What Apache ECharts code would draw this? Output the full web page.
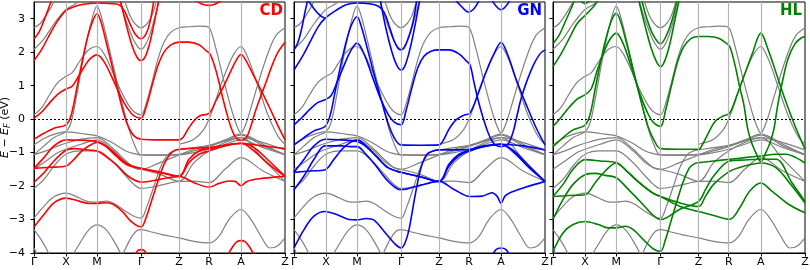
<!DOCTYPE html>
<html><head><meta charset="utf-8">
<script src="https://cdn.jsdelivr.net/npm/echarts@6/dist/echarts.min.js"></script>
<style>html,body{margin:0;padding:0;background:#fff}#c{width:810px;height:270px}</style>
</head><body><div id="c"></div>
<script>
// k-path positions of the high-symmetry points and their labels
const kTicks = [0, 32, 63, 107, 145, 175, 207, 251];
const kLabels = ['Γ', 'X', 'M', 'Γ', 'Z', 'R', 'A', 'Z'];
const yTicks = [-4, -3, -2, -1, 0, 1, 2, 3];

// Reference (grey) bands, shared by all panels: each band = [k, E] points
const grayBands = [
  [[0,0.13],[8,0.35],[16,0.75],[24,1.1],[32,1.28],[38,1.38],[44,1.65],[50,1.92],[56,2.1],[63,2.17],[70,1.95],[78,1.45],[86,0.9],[94,0.45],[100,0.22],[107,0.13],[112,0.45],[118,1.1],[124,1.8],[130,2.3],[137,2.6],[145,2.73],[155,2.76],[165,2.78],[172,2.77],[176,2.7],[182,2.1],[189,1.25],[196,0.45],[201,-0.05],[205,-0.35],[207,-0.42],[209,-0.35],[213,-0.05],[219,0.55],[227,1.35],[235,2.05],[242,2.5],[251,2.73]],
  [[0,-1.07],[10,-0.8],[20,-0.55],[32,-0.37],[37,-0.1],[42,0.6],[48,1.6],[54,2.5],[59,3.1],[63,3.38],[67,3.1],[73,2.4],[80,1.5],[88,0.5],[95,-0.3],[101,-0.8],[107,-1.07],[126,-1.08],[145,-1.07],[160,-1.0],[175,-0.9],[191,-0.75],[207,-0.62],[229,-0.85],[251,-1.07]],
  [[145,-0.75],[160,-0.6],[170,-0.3],[175,0.0],[180,0.4],[186,0.95],[193,1.5],[200,1.95],[207,2.17],[211,2.02],[217,1.6],[225,0.9],[233,0.2],[241,-0.35],[246,-0.6],[251,-0.75]],
  [[0,2.73],[6,2.85],[12,3.1],[18,3.4],[21,3.6]],
  [[0,2.09],[10,2.4],[20,2.85],[28,3.15],[32,3.28],[40,3.42],[50,3.6]],
  [[90,3.6],[96,3.1],[101,2.85],[107,2.73],[113,2.85],[118,3.1],[123,3.6]],
  [[85,3.6],[92,2.95],[99,2.4],[104,2.15],[107,2.09],[110,2.15],[115,2.45],[120,2.95],[126,3.6]],
  [[0,-0.77],[12,-0.55],[24,-0.42],[32,-0.38],[47,-0.43],[63,-0.5],[78,-0.7],[92,-0.95],[100,-1.03],[107,-1.07],[126,-1.07],[145,-1.05],[160,-0.95],[175,-0.82],[191,-0.65],[207,-0.48],[229,-0.8],[251,-1.05]],
  [[0,-1.07],[12,-0.95],[24,-0.8],[32,-0.72],[47,-0.6],[63,-0.55],[78,-0.85],[92,-1.25],[100,-1.45],[107,-1.5],[126,-1.3],[145,-1.07],[160,-0.9],[175,-0.8],[191,-0.62],[207,-0.45],[229,-0.75],[251,-1.07]],
  [[0,-1.5],[12,-1.25],[24,-1.0],[32,-0.9],[47,-0.75],[63,-0.62],[78,-0.9],[92,-1.3],[100,-1.45],[107,-1.5],[126,-1.65],[145,-1.86],[160,-1.3],[175,-0.95],[191,-0.7],[207,-0.55],[229,-1.2],[251,-1.86]],
  [[0,-2.07],[10,-1.8],[20,-1.4],[32,-1.05],[47,-0.95],[63,-0.95],[78,-1.25],[92,-1.7],[100,-1.95],[107,-2.07],[126,-1.98],[145,-1.86],[160,-1.85],[175,-1.9],[191,-1.5],[207,-1.15],[229,-1.55],[251,-1.86]],
  [[0,-2.96],[10,-2.6],[20,-2.32],[32,-2.21],[45,-2.35],[55,-2.47],[63,-2.48],[72,-2.45],[80,-2.52],[90,-2.72],[100,-2.9],[107,-2.96],[113,-2.6],[120,-2.0],[127,-1.4],[134,-1.05],[140,-0.95],[145,-0.92],[160,-0.85],[175,-0.78],[191,-0.65],[207,-0.55],[229,-0.7],[251,-0.92]],
  [[38,-4.1],[46,-3.7],[55,-3.3],[63,-3.16],[72,-3.3],[82,-3.75],[88,-4.1]],
  [[88,-4.1],[96,-3.6],[102,-3.35],[107,-3.3],[115,-3.35],[128,-3.45],[145,-3.55],[160,-3.65],[175,-3.7],[185,-3.5],[195,-3.0],[207,-2.7],[217,-3.0],[227,-3.5],[236,-3.85],[243,-3.8],[251,-3.55]],
  [[0,-3.3],[6,-3.55],[12,-3.85],[16,-4.1]],
  [[0,-3.85],[4,-4.1]]
];

// CD (red) bands
const cdBands = [
  [[0,0.03],[8,0.22],[16,0.5],[24,0.75],[32,0.9],[38,0.98],[44,1.25],[50,1.55],[56,1.8],[63,1.92],[70,1.72],[78,1.25],[86,0.72],[94,0.3],[100,0.1],[107,0.03],[112,0.35],[118,1.0],[124,1.6],[130,2.0],[137,2.22],[145,2.3],[155,2.3],[165,2.22],[172,2.05],[176,1.95],[181,1.55],[185,1.1],[189,0.6],[193,0.15],[197,-0.25],[201,-0.52],[204,-0.61],[207,-0.63],[210,-0.61],[213,-0.52],[217,-0.2],[221,0.2],[226,0.62],[232,1.1],[238,1.6],[244,2.0],[251,2.3]],
  [[0,-0.6],[10,-0.42],[20,-0.27],[32,-0.17],[37,0.1],[42,0.8],[48,1.7],[54,2.5],[59,2.95],[63,3.15],[67,2.9],[73,2.2],[80,1.35],[88,0.35],[94,-0.2],[100,-0.5],[107,-0.6],[126,-0.62],[145,-0.62],[149,-0.55],[154,-0.3],[160,-0.05],[166,0.1],[175,0.17],[182,0.55],[190,1.0],[197,1.45],[203,1.8],[207,1.93],[211,1.8],[218,1.4],[229,0.75],[237,0.25],[244,-0.2],[251,-0.62]],
  [[0,1.75],[8,2.1],[16,2.55],[24,2.95],[32,3.24],[40,3.36],[47,3.42],[63,3.47],[78,3.45],[86,3.4],[91,3.2],[96,2.85],[101,2.55],[107,2.4],[112,2.55],[116,2.9],[120,3.6]],
  [[0,2.4],[5,2.6],[10,2.95],[15,3.35],[18,3.6]],
  [[86,3.6],[92,2.85],[98,2.2],[103,1.85],[107,1.75],[111,1.85],[116,2.3],[121,3.0],[125,3.6]],
  [[160,3.6],[167,3.45],[175,3.4],[182,3.45],[190,3.6]],
  [[0,-1.47],[16,-1.44],[32,-1.4],[40,-1.2],[48,-0.95],[56,-0.78],[63,-0.7],[72,-0.82],[82,-1.1],[94,-1.38],[107,-1.47],[126,-1.6],[145,-1.71],[155,-1.3],[165,-1.05],[175,-0.95],[191,-0.8],[207,-0.72],[218,-0.9],[235,-1.35],[251,-1.71]],
  [[0,-1.88],[10,-1.6],[20,-1.25],[32,-0.93],[40,-0.88],[48,-0.9],[56,-0.93],[63,-0.95],[72,-1.12],[82,-1.35],[94,-1.7],[107,-1.88],[126,-1.8],[145,-1.71],[160,-1.9],[175,-2.03],[185,-1.92],[195,-1.85],[201,-1.86],[207,-1.99],[213,-1.86],[225,-1.78],[251,-1.71]],
  [[0,-1.47],[10,-1.15],[20,-0.8],[32,-0.62],[47,-0.63],[63,-0.67],[72,-0.8],[82,-1.05],[94,-1.35],[107,-1.47],[126,-1.58],[145,-1.7],[155,-1.2],[165,-0.95],[175,-0.88],[191,-0.78],[207,-0.72],[220,-0.85],[235,-1.25],[251,-1.7]],
  [[0,-3.22],[10,-2.85],[20,-2.5],[32,-2.36],[45,-2.45],[55,-2.52],[63,-2.52],[70,-2.5],[78,-2.53],[88,-2.75],[98,-3.08],[107,-3.22],[112,-2.95],[118,-2.4],[124,-1.85],[130,-1.35],[136,-1.05],[141,-0.93],[145,-0.9],[160,-0.87],[175,-0.85],[191,-0.78],[207,-0.73],[229,-0.8],[251,-0.88]],
  [[193,-4.1],[199,-3.8],[203,-3.66],[207,-3.63],[211,-3.66],[215,-3.8],[221,-4.1]],
  [[100,-4.1],[104,-3.92],[107,-3.9],[110,-3.92],[114,-4.1]]
];

// GN (blue) bands
const gnBands = [
  [[0,-0.17],[8,0.05],[16,0.3],[24,0.5],[31,0.58],[37,0.7],[43,1.1],[50,1.6],[56,2.0],[63,2.27],[70,1.95],[78,1.3],[86,0.65],[94,0.15],[100,-0.08],[107,-0.17],[112,0.25],[118,0.95],[124,1.55],[130,1.88],[137,2.03],[145,2.07],[155,2.07],[165,1.95],[172,1.75],[176,1.62],[180,1.1],[184,0.58],[189,0.05],[194,-0.4],[199,-0.7],[203,-0.8],[207,-0.82],[211,-0.8],[215,-0.7],[219,-0.4],[223,0.1],[227,0.6],[233,1.15],[240,1.65],[246,1.95],[251,2.07]],
  [[0,-0.77],[10,-0.55],[20,-0.35],[31,-0.22],[36,0.1],[41,0.8],[47,1.65],[53,2.4],[58,2.85],[63,3.06],[67,2.8],[73,2.15],[80,1.35],[88,0.5],[95,-0.2],[101,-0.6],[107,-0.77],[126,-0.78],[145,-0.77],[149,-0.65],[155,-0.3],[162,-0.02],[170,0.12],[176,0.18],[184,0.75],[192,1.4],[200,1.95],[207,2.29],[214,1.9],[222,1.2],[232,0.45],[242,-0.25],[251,-0.77]],
  [[0,2.07],[4,2.3],[8,2.75],[11,3.2],[14,3.6]],
  [[13,3.6],[20,3.3],[26,3.1],[31,3.01]],
  [[0,1.47],[8,1.85],[16,2.3],[24,2.75],[31,3.01],[42,3.25],[52,3.42],[63,3.47],[75,3.45],[84,3.38],[90,3.2],[95,2.8],[100,2.35],[104,2.12],[107,2.07],[110,2.12],[114,2.4],[119,2.9],[123,3.6]],
  [[86,3.6],[92,2.7],[98,2.0],[103,1.6],[107,1.47],[111,1.6],[116,2.1],[121,2.8],[126,3.6]],
  [[160,3.6],[168,3.35],[174,3.2],[180,3.3],[186,3.6]],
  [[197,3.6],[202,3.38],[207,3.27],[212,3.38],[217,3.6]],
  [[0,-1.59],[16,-1.55],[31,-1.51],[40,-1.2],[48,-0.9],[56,-0.7],[63,-0.62],[72,-0.8],[82,-1.1],[94,-1.45],[107,-1.59],[126,-1.72],[145,-1.86],[155,-1.4],[165,-1.1],[176,-0.95],[191,-0.82],[207,-0.75],[220,-1.0],[235,-1.45],[251,-1.86]],
  [[0,-2.11],[10,-1.7],[20,-1.2],[31,-0.8],[40,-0.8],[48,-0.8],[56,-0.82],[63,-0.82],[72,-1.05],[82,-1.4],[94,-1.85],[107,-2.11],[126,-1.98],[145,-1.86],[160,-2.1],[176,-2.31],[188,-2.3],[198,-2.2],[203,-2.3],[207,-2.51],[211,-2.3],[216,-2.2],[230,-2.05],[251,-1.86]],
  [[0,-1.59],[10,-1.2],[20,-0.8],[31,-0.6],[47,-0.62],[63,-0.67],[72,-0.82],[82,-1.1],[94,-1.45],[107,-1.59],[126,-1.72],[145,-1.86],[155,-1.35],[165,-1.05],[176,-0.92],[191,-0.8],[207,-0.75],[220,-0.95],[235,-1.4],[251,-1.86]],
  [[0,-3.85],[10,-3.3],[20,-2.9],[31,-2.76],[45,-2.88],[55,-3.0],[63,-3.01],[72,-2.97],[80,-3.02],[90,-3.35],[100,-3.7],[107,-3.85],[111,-3.7],[115,-3.3],[121,-2.3],[127,-1.45],[133,-1.05],[139,-0.95],[145,-0.92],[160,-0.92],[176,-0.9],[191,-0.8],[207,-0.75],[229,-0.8],[251,-0.92]],
  [[198,-4.1],[202,-3.9],[207,-3.85],[212,-3.9],[216,-4.1]]
];

// HL (green) bands
const hlBands = [
  [[0,-0.22],[8,0.05],[16,0.35],[24,0.6],[32,0.73],[38,0.9],[44,1.45],[50,1.95],[56,2.35],[63,2.57],[70,2.25],[78,1.55],[86,0.8],[94,0.2],[100,-0.1],[107,-0.22],[112,0.25],[118,1.0],[124,1.7],[130,2.15],[137,2.4],[145,2.47],[155,2.47],[165,2.42],[172,2.28],[176,2.17],[181,1.65],[186,0.95],[190,0.45],[194,-0.3],[198,-0.72],[202,-1.0],[205,-1.2],[207,-1.27],[209,-1.2],[212,-1.0],[216,-0.72],[220,-0.3],[224,0.45],[228,1.05],[234,1.8],[241,2.25],[247,2.42],[251,2.47]],
  [[0,-0.82],[10,-0.55],[20,-0.32],[32,-0.18],[37,0.15],[42,0.9],[48,1.8],[54,2.55],[59,3.0],[63,3.16],[67,2.95],[73,2.3],[80,1.45],[88,0.5],[95,-0.25],[101,-0.65],[107,-0.88],[126,-0.9],[145,-0.9],[149,-0.75],[155,-0.4],[162,-0.05],[170,0.1],[176,0.18],[183,0.7],[191,1.35],[199,2.0],[207,2.57],[214,2.1],[222,1.4],[231,0.6],[241,-0.2],[251,-0.9]],
  [[0,1.57],[8,1.95],[16,2.4],[24,2.85],[32,3.1],[40,3.35],[46,3.6]],
  [[0,2.25],[6,2.5],[12,2.9],[18,3.3],[22,3.6]],
  [[88,3.6],[94,2.95],[100,2.5],[107,2.25],[113,2.5],[119,3.0],[124,3.6]],
  [[85,3.6],[92,2.75],[98,2.1],[103,1.72],[107,1.57],[111,1.72],[116,2.2],[121,2.9],[126,3.6]],
  [[26,3.6],[32,3.45],[38,3.6]],
  [[0,-2.31],[10,-1.95],[20,-1.5],[32,-1.21],[47,-1.25],[63,-1.3],[75,-1.6],[88,-1.95],[100,-2.22],[107,-2.31],[126,-2.5],[145,-2.61],[152,-2.3],[160,-1.95],[176,-1.56],[191,-1.4],[207,-1.31],[222,-1.45],[238,-2.0],[251,-2.51]],
  [[0,-2.31],[16,-2.28],[32,-2.26],[42,-1.9],[52,-1.55],[63,-1.31],[75,-1.6],[88,-1.95],[100,-2.22],[107,-2.31],[126,-2.6],[145,-2.76],[160,-2.88],[176,-2.99],[186,-2.65],[196,-2.15],[207,-1.91],[218,-2.15],[235,-2.55],[251,-2.8]],
  [[0,-3.0],[10,-2.4],[20,-1.95],[32,-1.66],[42,-1.62],[52,-1.68],[63,-1.75],[75,-2.1],[88,-2.5],[100,-2.88],[107,-3.0],[126,-2.7],[145,-2.46],[152,-2.1],[160,-1.7],[176,-1.25],[191,-1.22],[207,-1.2],[222,-1.2],[238,-1.9],[251,-2.46]],
  [[0,-3.95],[10,-3.4],[20,-3.15],[32,-3.06],[45,-3.15],[55,-3.25],[63,-3.25],[72,-3.2],[80,-3.3],[90,-3.6],[100,-3.88],[107,-3.95],[112,-3.6],[118,-3.0],[124,-2.4],[130,-1.85],[136,-1.45],[141,-1.33],[145,-1.3],[160,-1.25],[176,-1.2],[191,-1.15],[207,-1.1],[222,-1.05],[232,-1.05],[242,-1.15],[251,-1.31]]
];

const panels = [
  {name: 'CD', color: '#ff0000', bands: cdBands, left: 34, width: 251, right: 527},
  {name: 'GN', color: '#0000ff', bands: gnBands, left: 294, width: 251, right: 268},
  {name: 'HL', color: '#008000', bands: hlBands, left: 553, width: 252, right: 8}
];

const FONT = 'DejaVu Sans';
const grids = [], xAxes = [], yAxes = [], series = [], titles = [];
panels.forEach((p, i) => {
  grids.push({left: p.left, top: 2, width: p.width, height: 251, show: true,
    borderColor: '#000', borderWidth: 1, backgroundColor: 'transparent',
    containLabel: false, outerBoundsMode: 'none'});
  xAxes.push({gridIndex: i, type: 'value', min: 0, max: 251,
    axisLine: {show: true, onZero: false, lineStyle: {color: '#000', width: 1}},
    axisTick: {show: true, customValues: kTicks, length: 3.5, lineStyle: {color: '#000', width: 1}},
    axisLabel: {show: true, customValues: kTicks, margin: 4, color: '#000', fontSize: 11, fontFamily: FONT,
      formatter: v => kLabels[kTicks.indexOf(v)] || ''},
    splitLine: {show: false}});
  const ya = {gridIndex: i, type: 'value', min: -4, max: 3.5,
    axisLine: {show: true, onZero: false, lineStyle: {color: '#000', width: 1}},
    axisTick: {show: true, customValues: yTicks, length: 3.5, lineStyle: {color: '#000', width: 1}},
    axisLabel: {show: i === 0, customValues: yTicks, margin: 9, color: '#000', fontSize: 11, fontFamily: FONT,
      formatter: v => (v < 0 ? '\u2212' + (-v) : '' + v)},
    splitLine: {show: false}};
  if (i === 0) {
    ya.name = '{it|E} \u2212 {it|E}{sub|F} (eV)';
    ya.nameLocation = 'middle';
    ya.nameRotate = 90;
    ya.nameGap = 22;
    ya.nameMoveOverlap = false;
    ya.nameTextStyle = {color: '#000', fontSize: 11, fontFamily: FONT,
      rich: {it: {fontStyle: 'italic', fontSize: 11, fontFamily: FONT, color: '#000'},
             sub: {fontStyle: 'italic', fontSize: 8, fontFamily: FONT, color: '#000', padding: [5, 0, 0, 0]}}};
  }
  yAxes.push(ya);

  // high-symmetry vertical lines and Fermi level
  series.push({type: 'line', xAxisIndex: i, yAxisIndex: i, data: [], silent: true, z: 1,
    markLine: {silent: true, symbol: 'none', animation: false, label: {show: false},
      data: kTicks.slice(1, -1).map(k => ({xAxis: k, lineStyle: {color: '#b4b4b4', width: 1.2, type: 'solid'}}))
        .concat([{yAxis: 0, lineStyle: {color: '#000', width: 1, type: [2, 2]}}])}});

  grayBands.forEach(b => series.push({type: 'line', xAxisIndex: i, yAxisIndex: i, data: b,
    symbol: 'none', showSymbol: false, smooth: 0.35, silent: true, z: 2, animation: false,
    lineStyle: {color: '#808080', width: 1.2}}));
  p.bands.forEach(b => series.push({type: 'line', xAxisIndex: i, yAxisIndex: i, data: b,
    symbol: 'none', showSymbol: false, smooth: 0.35, silent: true, z: 3, animation: false,
    lineStyle: {color: p.color, width: 1.6}}));

  titles.push({text: p.name, right: p.right, top: 4, padding: 0,
    textStyle: {color: p.color, fontSize: 15, fontWeight: 'bold', fontFamily: FONT}});
});

const chart = echarts.init(document.getElementById('c'), null, {renderer: 'canvas'});
chart.setOption({animation: false, backgroundColor: '#fff', title: titles,
  grid: grids, xAxis: xAxes, yAxis: yAxes, series: series});
</script></body></html>
